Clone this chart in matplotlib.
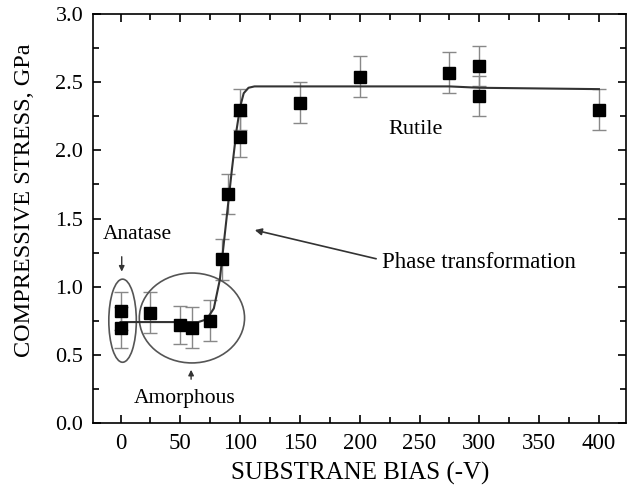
import matplotlib.pyplot as plt
from matplotlib.patches import Ellipse

plt.rcParams['font.family'] = ['Liberation Serif', 'DejaVu Serif']

# measured points
bias = [0, 0, 25, 50, 60, 75, 85, 90, 100, 100, 150, 200, 275, 300, 300, 400]
stress = [0.82, 0.70, 0.81, 0.72, 0.70, 0.75, 1.20, 1.68, 2.10, 2.30, 2.35, 2.54, 2.57, 2.62, 2.40, 2.30]
stress_err = [0.14, 0.15, 0.15, 0.14, 0.15, 0.15, 0.15, 0.15, 0.15, 0.15, 0.15, 0.15, 0.15, 0.15, 0.15, 0.15]

# guide line
fit_x = [0, 25, 50, 65, 72, 78, 83, 88, 93, 97, 100, 103, 107, 112, 120, 150, 200, 275, 300, 400]
fit_y = [0.74, 0.74, 0.74, 0.74, 0.76, 0.84, 1.05, 1.45, 1.85, 2.15, 2.32, 2.42, 2.46, 2.47, 2.47, 2.47, 2.47, 2.47, 2.46, 2.45]

fig = plt.figure(figsize=(6.35, 4.9), dpi=100)
ax = fig.add_axes([0.1465, 0.137, 0.84, 0.834])

ax.plot(fit_x, fit_y, color='#333333', lw=1.5, zorder=2)
ax.errorbar(bias, stress, yerr=stress_err, fmt='none', ecolor='#888888', elinewidth=1.0,
            capsize=5, capthick=1.0, zorder=1)
ax.plot(bias, stress, 's', color='black', markersize=8.5, zorder=3)

# phase regions
ax.add_patch(Ellipse((1.7, 0.75), 23, 0.61, fill=False, ec='#555555', lw=1.2))
ax.add_patch(Ellipse((59.7, 0.77), 88, 0.66, fill=False, ec='#555555', lw=1.2))

ax.annotate('', xy=(1, 1.09), xytext=(1, 1.24),
            arrowprops=dict(arrowstyle='-|>', color='#333333', lw=1.0, mutation_scale=8))
ax.text(-15, 1.38, 'Anatase', fontsize=15.5, ha='left', va='center')
ax.annotate('', xy=(59, 0.41), xytext=(59, 0.30),
            arrowprops=dict(arrowstyle='-|>', color='#333333', lw=1.0, mutation_scale=8))
ax.text(53.5, 0.18, 'Amorphous', fontsize=15.5, ha='center', va='center')
ax.annotate('', xy=(110, 1.42), xytext=(216, 1.20),
            arrowprops=dict(arrowstyle='-|>', color='#333333', lw=1.2, mutation_scale=10))
ax.text(219, 1.18, 'Phase transformation', fontsize=16.5, ha='left', va='center')
ax.text(224, 2.15, 'Rutile', fontsize=16, ha='left', va='center')

ax.set_xlim(-23, 423)
ax.set_ylim(0, 3.0)
ax.set_xticks(range(0, 401, 50))
ax.set_xticks(range(25, 401, 50), minor=True)
ax.set_yticks([0.0, 0.5, 1.0, 1.5, 2.0, 2.5, 3.0])
ax.set_yticks([0.25, 0.75, 1.25, 1.75, 2.25, 2.75], minor=True)
ax.set_yticklabels(['0.0', '0.5', '1.0', '1.5', '2.0', '2.5', '3.0'])
ax.tick_params(which='both', direction='in', top=True, right=True, width=1.2)
ax.tick_params(axis='x', labelsize=16.5, pad=7)
ax.tick_params(axis='y', labelsize=16, pad=7)
ax.tick_params(which='major', length=6)
ax.tick_params(which='minor', length=4)
for s in ax.spines.values():
    s.set_linewidth(1.2)

ax.set_xlabel('SUBSTRANE BIAS (-V)', fontsize=18, labelpad=6)
ax.set_ylabel('COMPRESSIVE STRESS, GPa', fontsize=17.5)
ax.yaxis.set_label_coords(-0.108, 0.545)

fig.savefig('out.png', dpi=100)
